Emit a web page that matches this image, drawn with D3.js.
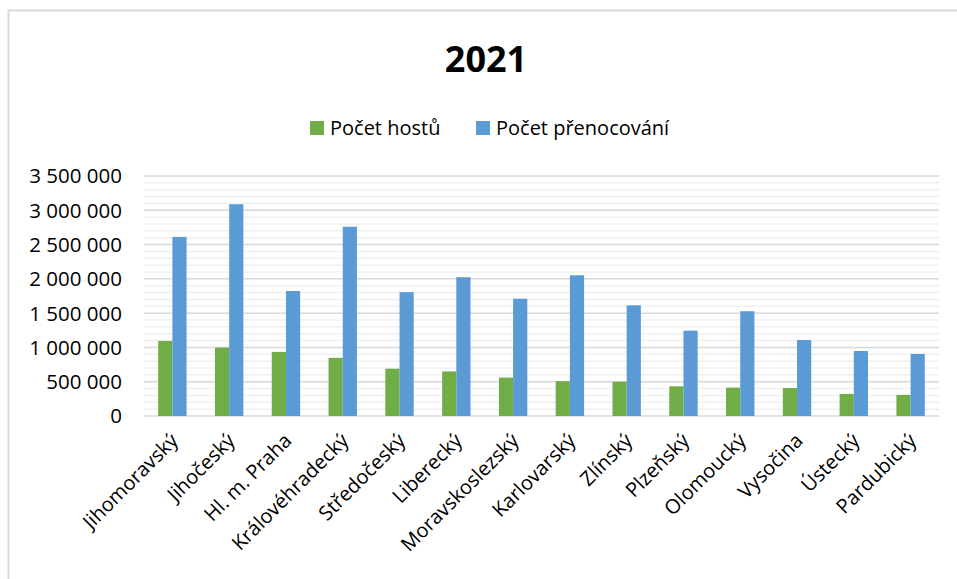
<!DOCTYPE html>
<html>
<head>
<meta charset="utf-8">
<script src="https://cdn.jsdelivr.net/npm/d3@7"></script>
<style>
  body { margin: 0; background: #fff; }
  text { font-family: "Open Sans", sans-serif; fill: #000; }
</style>
</head>
<body>
<div id="chart"></div>
<script>
var regions = ["Jihomoravský", "Jihočeský", "Hl. m. Praha", "Královéhradecký", "Středočeský", "Liberecký",
  "Moravskoslezský", "Karlovarský", "Zlínský", "Plzeňský", "Olomoucký", "Vysočina", "Ústecký", "Pardubický"]
var hosts = [1095000, 998000, 935000, 848000, 690000, 650000, 560000, 508000, 500000, 433000, 414000, 408000, 322000, 308000]
var nights = [2612000, 3088000, 1823000, 2760000, 1806000, 2024000, 1710000, 2052000, 1614000, 1245000, 1528000, 1108000, 948000, 905000]
var series = ["Počet hostů", "Počet přenocování"]
var colours = ["#70ad47", "#5b9bd5"]
var yTicks = [0, 500000, 1000000, 1500000, 2000000, 2500000, 3000000, 3500000]

var width = 957, height = 579
var margin = {top: 176, right: 18, bottom: 163, left: 144}
var innerW = width - margin.left - margin.right,
    innerH = height - margin.top - margin.bottom

var svg = d3.select("#chart").append("svg")
  .attr("width", width)
  .attr("height", height)

// chart frame
svg.append("rect")
  .attr("x", 8.5).attr("y", 10.5)
  .attr("width", 1000).attr("height", 1000)
  .attr("fill", "none")
  .attr("stroke", "#d9d9d9")
  .attr("stroke-width", 2)

svg.append("text")
  .attr("x", 486).attr("y", 72)
  .attr("text-anchor", "middle")
  .style("font-size", "36px")
  .style("font-weight", "bold")
  .text("2021")

// legend
var legendX = [310, 476]
series.forEach(function(s, i){
  svg.append("rect")
    .attr("x", legendX[i]).attr("y", 121)
    .attr("width", 14).attr("height", 14)
    .attr("fill", colours[i])
  svg.append("text")
    .attr("x", legendX[i] + 20).attr("y", 135)
    .style("font-size", "20px")
    .text(s)
})

var g = svg.append("g")
  .attr("transform", "translate(" + margin.left + "," + margin.top + ")")

var x = d3.scaleBand().domain(regions).range([0, innerW]).paddingInner(0.5).paddingOuter(0.25)
var x1 = d3.scaleBand().domain([0, 1]).range([0, x.bandwidth()])
var y = d3.scaleLinear().domain([0, 3500000]).range([innerH, 0])

// minor gridlines
g.selectAll(".minor")
  .data(d3.range(100000, 3500000, 100000).filter(function(d){ return d % 500000 != 0 }))
  .enter().append("line")
  .attr("x1", 0).attr("x2", innerW)
  .attr("y1", function(d){ return y(d) }).attr("y2", function(d){ return y(d) })
  .attr("stroke", "#f0f0f0").attr("stroke-width", 1.5)

// major gridlines
g.selectAll(".major")
  .data(yTicks)
  .enter().append("line")
  .attr("x1", 0).attr("x2", innerW)
  .attr("y1", function(d){ return y(d) }).attr("y2", function(d){ return y(d) })
  .attr("stroke", "#d9d9d9").attr("stroke-width", 1.5)

var fmt = function(d){ return d3.format(",")(d).replace(/,/g, " ") }

g.selectAll(".ylab")
  .data(yTicks)
  .enter().append("text")
  .attr("x", -22)
  .attr("y", function(d){ return y(d) })
  .attr("dy", "0.36em")
  .attr("text-anchor", "end")
  .style("font-size", "20.5px")
  .text(fmt)

var groups = g.selectAll(".grp")
  .data(regions)
  .enter().append("g")
  .attr("transform", function(d){ return "translate(" + x(d) + ",0)" })

groups.append("rect")
  .attr("x", x1(0)).attr("width", x1.bandwidth())
  .attr("y", function(d, i){ return y(hosts[i]) })
  .attr("height", function(d, i){ return innerH - y(hosts[i]) })
  .attr("fill", colours[0])

groups.append("rect")
  .attr("x", x1(1)).attr("width", x1.bandwidth())
  .attr("y", function(d, i){ return y(nights[i]) })
  .attr("height", function(d, i){ return innerH - y(nights[i]) })
  .attr("fill", colours[1])

// x labels
g.selectAll(".xlab")
  .data(regions)
  .enter().append("text")
  .attr("transform", function(d){
    return "translate(" + (x(d) + x.bandwidth() / 2 + 7) + "," + (innerH + 26) + ") rotate(-45)"
  })
  .attr("text-anchor", "end")
  .style("font-size", "20px")
  .text(function(d){ return d })
</script>
</body>
</html>
